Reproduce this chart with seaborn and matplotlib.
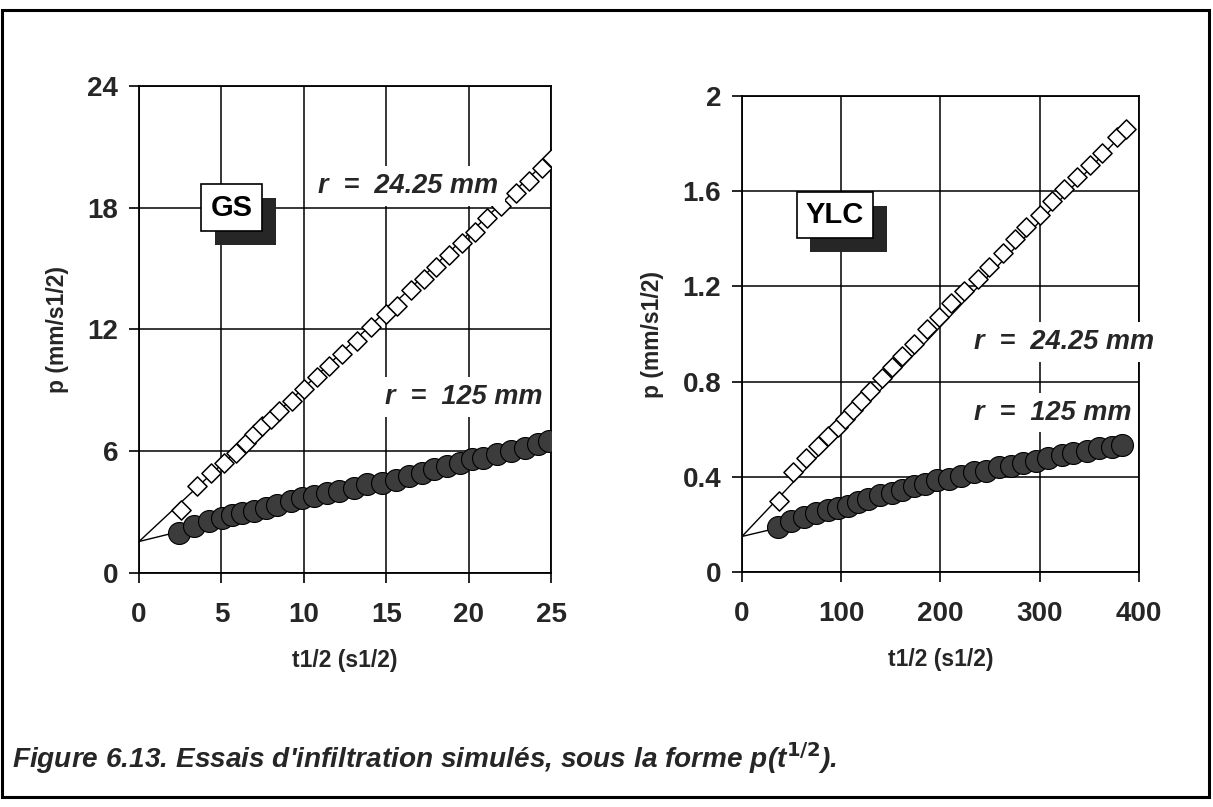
import numpy as np
import pandas as pd
import matplotlib
matplotlib.use('Agg')
import matplotlib.pyplot as plt
import matplotlib.patheffects as pe
from matplotlib.patches import Rectangle
import seaborn as sns

# GS : sable (p en mm/s1/2, t1/2 en s1/2)
gs_t_open = [2.53, 3.54, 4.35, 5.16, 5.87, 6.47, 6.98, 7.48, 7.99, 8.50, 9.31, 10.0,
             10.8, 11.5, 12.3, 13.25, 14.06, 14.97, 15.68, 16.49, 17.29, 18.0, 18.8,
             19.6, 20.4, 21.1, 21.95, 22.86, 23.66, 24.47, 25.08]
gs_p_open = [3.12, 4.27, 4.93, 5.43, 5.93, 6.42, 6.83, 7.24, 7.57, 7.99, 8.48, 9.06,
             9.64, 10.2, 10.8, 11.45, 12.1, 12.77, 13.18, 13.93, 14.5, 15.08, 15.66,
             16.24, 16.8, 17.48, 18.1, 18.7, 19.3, 19.95, 20.45]
gs_t_fill = [2.43, 3.34, 4.25, 5.05, 5.66, 6.27, 6.98, 7.69, 8.39, 9.2, 9.91, 10.62,
             11.43, 12.14, 13.05, 13.85, 14.76, 15.58, 16.38, 17.19, 17.9, 18.7, 19.5,
             20.2, 20.9, 21.7, 22.55, 23.4, 24.2, 24.9]
gs_p_fill = [1.96, 2.29, 2.54, 2.71, 2.87, 2.96, 3.03, 3.2, 3.37, 3.53, 3.7, 3.78,
             3.95, 4.03, 4.19, 4.36, 4.44, 4.6, 4.77, 4.94, 5.1, 5.26, 5.43,
             5.6, 5.68, 5.84, 6.0, 6.17, 6.34, 6.5]
gs_fit_t = [0, 25]
gs_fit_open = [1.55, 20.5]
gs_fit_fill = [1.55, 6.55]

# YLC : limon
ylc_t_open = [37.2, 50.9, 64.4, 76.3, 86.5, 96.6, 103.4, 111.9, 120.3, 128.8, 140.7,
              150.9, 161.0, 172.9, 186.5, 198.4, 210.2, 223.8, 237.3, 249.2, 262.8,
              274.7, 286.5, 300.1, 311.9, 324.0, 337.3, 351.0, 362.8, 378.0, 386.6]
ylc_p_open = [0.30, 0.42, 0.48, 0.53, 0.57, 0.61, 0.645, 0.68, 0.72, 0.76, 0.815,
              0.86, 0.91, 0.96, 1.02, 1.07, 1.13, 1.18, 1.23, 1.28, 1.34,
              1.40, 1.45, 1.50, 1.56, 1.61, 1.66, 1.71, 1.76, 1.83, 1.86]
ylc_t_fill = [36.2, 49.1, 62.7, 74.6, 86.5, 96.6, 106.8, 117.0, 127.2, 139.0, 150.9,
              161.0, 172.9, 184.7, 196.6, 208.5, 220.3, 233.9, 245.8, 259.4, 271.2,
              283.1, 296.6, 308.5, 322.0, 334.0, 347.5, 359.4, 373.0, 383.0]
ylc_p_fill = [0.19, 0.217, 0.23, 0.247, 0.263, 0.27, 0.278, 0.293, 0.309, 0.324, 0.332,
              0.347, 0.363, 0.37, 0.386, 0.393, 0.406, 0.42, 0.427, 0.44, 0.448,
              0.46, 0.467, 0.48, 0.494, 0.5, 0.507, 0.52, 0.527, 0.533]
ylc_fit_t = [0, 390]
ylc_fit_open = [0.15, 1.87]
ylc_fit_fill = [0.15, 0.535]

sns.set_theme(style='white')
plt.rcParams['font.family'] = ['Liberation Sans', 'DejaVu Sans']
plt.rcParams['font.weight'] = 'bold'

fig = plt.figure(figsize=(12.13, 8.07), dpi=100)
ax1 = fig.add_axes([0.1146, 0.290, 0.3397, 0.6035])
ax2 = fig.add_axes([0.6117, 0.291, 0.3273, 0.590])

FILL = '#3c3c3c'


def draw_panel(ax, t_open, p_open, t_fill, p_fill, fit_t, fit_open, fit_fill):
    fit = pd.DataFrame({'t': fit_t, 'o': fit_open, 'f': fit_fill})
    sns.lineplot(data=fit, x='t', y='o', ax=ax, color='black', lw=1.0, zorder=2)
    sns.lineplot(data=fit, x='t', y='f', ax=ax, color='black', lw=1.0, zorder=2)
    d_open = pd.DataFrame({'t': t_open, 'p': p_open})
    d_fill = pd.DataFrame({'t': t_fill, 'p': p_fill})
    sns.scatterplot(data=d_open, x='t', y='p', ax=ax, marker='D', s=95,
                    facecolor='white', edgecolor='black', linewidth=1.1, zorder=3)
    sns.scatterplot(data=d_fill, x='t', y='p', ax=ax, marker='o', s=250,
                    color=FILL, edgecolor='black', linewidth=0.8, zorder=3)
    ax.grid(True, color='black', lw=1.1)
    ax.set_axisbelow(True)
    for sp in ax.spines.values():
        sp.set_color('black')
        sp.set_linewidth(1.3)
    ax.tick_params(axis='both', direction='out', length=7, width=1.2, color='black',
                   labelsize=20, left=True, bottom=True)
    ax.tick_params(axis='x', pad=14)
    ax.tick_params(axis='y', pad=8)
    ax.set_xlabel('t1/2 (s1/2)', fontsize=16.5, fontweight='bold', labelpad=15)
    ax.set_ylabel('p (mm/s1/2)', fontsize=16.5, fontweight='bold', labelpad=13)


draw_panel(ax1, gs_t_open, gs_p_open, gs_t_fill, gs_p_fill, gs_fit_t, gs_fit_open, gs_fit_fill)
draw_panel(ax2, ylc_t_open, ylc_p_open, ylc_t_fill, ylc_p_fill, ylc_fit_t, ylc_fit_open, ylc_fit_fill)

ax1.set_xlim(0, 25)
ax1.set_ylim(0, 24)
ax1.set_xticks([0, 5, 10, 15, 20, 25])
ax1.set_yticks([0, 6, 12, 18, 24])
ax2.set_xlim(0, 400)
ax2.set_ylim(0, 2)
ax2.set_xticks([0, 100, 200, 300, 400])
ax2.set_yticks([0, 0.4, 0.8, 1.2, 1.6, 2])
ax2.set_yticklabels(['0', '0.4', '0.8', '1.2', '1.6', '2'])
for ax in (ax1, ax2):
    for lab in ax.get_xticklabels() + ax.get_yticklabels():
        lab.set_fontweight('bold')


def tag(ax, x, y, txt):
    t = ax.text(x, y, txt, fontsize=21, fontweight='bold', color='black',
                ha='center', va='center', zorder=6,
                bbox=dict(boxstyle='square,pad=0.32', fc='white', ec='black', lw=1.2))
    t.get_bbox_patch().set_path_effects([
        pe.SimplePatchShadow(offset=(10, -10), shadow_rgbFace='#262626', alpha=1.0),
        pe.Normal()])


def rlabel(ax, x, y, txt):
    ax.text(x, y, txt, fontsize=19.5, fontweight='bold', fontstyle='italic',
            ha='center', va='center', zorder=4, clip_on=False,
            bbox=dict(boxstyle='square,pad=0.25', fc='white', ec='none'))


tag(ax1, 5.6, 18.0, 'GS')
tag(ax2, 93.7, 1.5, 'YLC')
rlabel(ax1, 16.3, 19.07, 'r  =  24.25 mm')
rlabel(ax1, 19.7, 8.67, 'r  =  125 mm')
rlabel(ax2, 324, 0.966, 'r  =  24.25 mm')
rlabel(ax2, 313, 0.67, 'r  =  125 mm')

fig.text(0.010, 0.048, "Figure 6.13. Essais d'infiltration simulés, sous la forme p(t$^{\\mathbf{1/2}}$).",
         fontsize=20.2, fontweight='bold', fontstyle='italic', ha='left', va='baseline')

fig.patches.append(Rectangle((0.002, 0.012), 0.995, 0.976, transform=fig.transFigure,
                             fill=False, ec='black', lw=2.2))

fig.savefig('out.png', dpi=100, facecolor='white')
